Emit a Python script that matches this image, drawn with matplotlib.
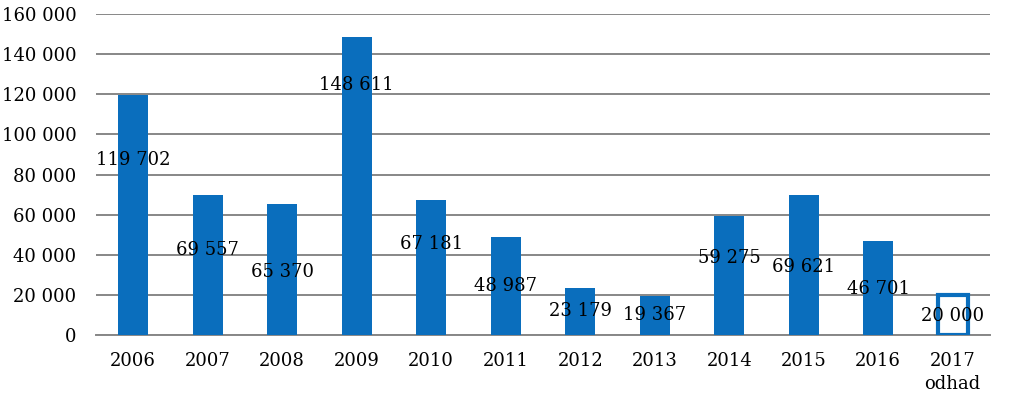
import matplotlib
matplotlib.use("Agg")
import matplotlib.pyplot as plt
from matplotlib.ticker import FuncFormatter, MultipleLocator

categories = ["2006", "2007", "2008", "2009", "2010", "2011", "2012", "2013",
              "2014", "2015", "2016", "2017\nodhad"]
values = [119702, 69557, 65370, 148611, 67181, 48987, 23179, 19367,
          59275, 69621, 46701, 20000]
estimate = [False] * 11 + [True]
# vertical placement of each data label (data units)
label_y = [87200, 42300, 31400, 124500, 45300, 24400, 12000, 10000,
           38300, 33900, 22900, 9500]

BLUE = "#0A6EBD"
plt.rcParams["font.family"] = ["DejaVu Serif"]
plt.rcParams["font.size"] = 13

fig = plt.figure(figsize=(10.23, 3.97), dpi=100)
ax = fig.add_axes([0.0938, 0.1562, 0.9677 - 0.0938, 0.9647 - 0.1562])

x = list(range(len(categories)))
for xi, v, est in zip(x, values, estimate):
    if est:
        ax.bar(xi, v, width=0.4, facecolor="white", edgecolor=BLUE,
               linewidth=3, zorder=3)
    else:
        ax.bar(xi, v, width=0.4, color=BLUE, zorder=3)

def fmt(v):
    return f"{int(v):,}".replace(",", " ")

for xi, v, ly in zip(x, values, label_y):
    ax.text(xi, ly, fmt(v), ha="center", va="center", fontsize=13,
            color="black", zorder=4)

ax.set_xlim(-0.5, len(categories) - 0.5)
ax.set_ylim(0, 160000)
ax.yaxis.set_major_locator(MultipleLocator(20000))
ax.yaxis.set_major_formatter(FuncFormatter(lambda v, p: fmt(v)))
ax.set_xticks(x)
ax.set_xticklabels(categories, linespacing=1.35)
ax.tick_params(axis="both", length=0, labelsize=13)
ax.tick_params(axis="y", pad=14)
ax.tick_params(axis="x", pad=12)
ax.grid(axis="y", color="#878787", linewidth=1.4, zorder=0)
for s in ["left", "right", "top"]:
    ax.spines[s].set_visible(False)
ax.spines["bottom"].set_color("#878787")
ax.spines["bottom"].set_linewidth(1.4)
ax.set_axisbelow(True)

fig.savefig("out.png", dpi=100)
